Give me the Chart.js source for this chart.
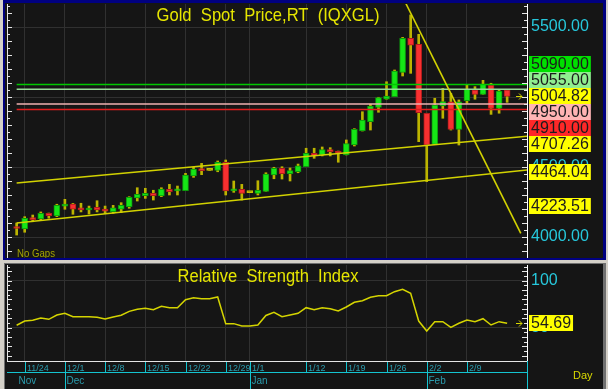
<!DOCTYPE html>
<html>
<head>
<meta charset="utf-8">
<script src="https://cdn.jsdelivr.net/npm/chart.js@4/dist/chart.umd.min.js"></script>
<style>
  html, body { margin: 0; padding: 0; width: 608px; height: 389px; overflow: hidden; background: #d4d0c8; }
  #topFrame { position: absolute; left: 3px; top: 0; width: 603px; height: 260px; background: #000080; }
  #botFrame { position: absolute; left: 4px; top: 263px; width: 602px; height: 126px; background: #707070; }
  canvas { position: absolute; background: #151515; }
  #priceCanvas { left: 5px; top: 3px; }
  #rsiCanvas { left: 5px; top: 264px; }
</style>
</head>
<body>
<div id="topFrame"></div>
<div id="botFrame"></div>
<canvas id="priceCanvas" width="598" height="255"></canvas>
<canvas id="rsiCanvas" width="598" height="125"></canvas>
<script>
const FONT = "'Liberation Sans', Arial, sans-serif";

// daily bars 11/21 .. 2/16
const opens  = [4075, 4057, 4138, 4129, 4169, 4150, 4221, 4236, 4209, 4193, 4212, 4200, 4181, 4198, 4217, 4279,
                4295, 4312, 4293, 4341, 4329, 4331, 4436, 4488, 4476, 4476, 4534, 4329, 4341, 4317, 4312, 4326,
                4443, 4491, 4452, 4466, 4502, 4598, 4586, 4624, 4614, 4586, 4657, 4757, 4824, 4926, 4984, 5002,
                5176, 5419, 5376, 4884, 4662, 4936, 4966, 4769, 4974, 5050, 5019, 5086, 4919, 5050];
const highs  = [4100, 4145, 4157, 4179, 4171, 4234, 4269, 4240, 4241, 4221, 4259, 4221, 4226, 4245, 4288, 4352,
                4348, 4334, 4352, 4376, 4364, 4455, 4498, 4526, 4476, 4543, 4550, 4400, 4376, 4317, 4402, 4459,
                4498, 4502, 4493, 4521, 4634, 4634, 4643, 4638, 4614, 4693, 4774, 4895, 4948, 4998, 5109, 5193,
                5426, 5586, 5448, 4884, 4991, 5062, 5026, 4979, 5086, 5074, 5119, 5098, 5050, 5050];
const lows   = [4014, 4034, 4109, 4121, 4134, 4145, 4198, 4162, 4179, 4164, 4179, 4169, 4169, 4174, 4205, 4257,
                4276, 4264, 4288, 4300, 4300, 4331, 4426, 4445, 4476, 4466, 4300, 4319, 4264, 4317, 4300, 4326,
                4416, 4414, 4400, 4459, 4502, 4562, 4579, 4579, 4534, 4586, 4650, 4757, 4764, 4891, 4984, 5002,
                5150, 5169, 4681, 4395, 4662, 4848, 4764, 4657, 4955, 4984, 5019, 4876, 4884, 4962];
const closes = [4061, 4134, 4124, 4169, 4152, 4226, 4236, 4198, 4193, 4207, 4193, 4184, 4209, 4226, 4284, 4305,
                4312, 4295, 4343, 4324, 4341, 4443, 4486, 4474, 4476, 4534, 4329, 4343, 4312, 4317, 4334, 4450,
                4491, 4452, 4474, 4509, 4598, 4581, 4624, 4609, 4598, 4667, 4769, 4836, 4936, 4995, 5007, 5186,
                5419, 5371, 4888, 4657, 4943, 4967, 4769, 4966, 5055, 5019, 5091, 4919, 5043, 5004.82];

const rsiValues = [52.6, 57.1, 57.9, 60.3, 58.9, 63.5, 65.3, 61.7, 61.7, 61.7, 61.0, 59.3, 61.4, 63.2, 67.4, 69.6,
                   70.6, 69.1, 72.7, 71.3, 71.3, 79.8, 81.9, 80.9, 80.9, 82.7, 54.3, 54.3, 51.8, 51.8, 52.9, 63.0,
                   66.4, 61.7, 63.5, 65.3, 71.3, 69.1, 71.3, 70.2, 67.8, 72.0, 77.0, 78.7, 82.3, 84.0, 84.0, 88.3,
                   90.8, 86.6, 57.1, 46.5, 56.4, 56.4, 50.4, 54.7, 58.2, 56.4, 59.6, 52.9, 56.4, 54.69];

const weekTickIdx = [1, 6, 11, 16, 21, 26, 29, 36, 41, 46, 51, 56];
const weekTickLabels = ["11/24", "12/1", "12/8", "12/15", "12/22", "12/29", "1/1", "1/12", "1/19", "1/26", "2/2", "2/9"];
const monthIdx = [0, 6, 29, 51];
const monthLabels = ["Nov", "Dec", "Jan", "Feb"];

const priceTicks = [4000, 4500, 5000, 5500];
const rsiTicks = [50, 100];

const levelValues = [5090, 5055, 4950, 4910];
const upperChannel = [{ x: 0, y: 4386 }, { x: 63.5, y: 4720 }];
const lowerChannel = [{ x: 0, y: 4100 }, { x: 63.5, y: 4479 }];
const fallingLine = [{ x: 48.3, y: 5680 }, { x: 62.7, y: 4026 }];

const priceTagValues = [5090, 5055, 5004.82, 4950, 4910, 4707.26, 4464.04, 4223.51];
const rsiTagValues = [54.69];

// styles
const levelColors = ["#00c800", "#98dc98", "#f0b0b0", "#e01c1c"];
const priceTagColors = ["#00e000", "#90ee90", "#ffff00", "#ffb4b4", "#ff2828", "#ffff00", "#ffff00", "#ffff00"];
const UP = "#16e616", DOWN = "#f83030", FLAT = "#c8c000";
const WICK = "#bcb400", TREND = "#d2d200", CYAN = "#26c8dc", TEAL = "#2a9cae", GRID = "#303030";
const X_MIN = -1.2, X_MAX = 63.47;

function stackTags(items, h) {
  items.sort((a, b) => a.y - b.y);
  let groups = items.map((it) => ({ items: [it], center: it.y }));
  let merged = true;
  while (merged) {
    merged = false;
    for (let i = 0; i < groups.length - 1; i++) {
      const a = groups[i], b = groups[i + 1];
      if (a.center + a.items.length * h / 2 > b.center - b.items.length * h / 2) {
        const all = a.items.concat(b.items);
        const center = all.reduce((s, it) => s + it.y, 0) / all.length;
        groups.splice(i, 2, { items: all, center });
        merged = true;
        break;
      }
    }
  }
  groups.forEach((g) => {
    const top = g.center - g.items.length * h / 2;
    g.items.forEach((it, k) => { it.top = Math.round(top + k * h); });
  });
}

function drawTags(chart, values, colors, decimals) {
  const { ctx, chartArea: a, scales: { y } } = chart;
  const h = 16;
  const items = values.map((v, i) => ({ y: y.getPixelForValue(v), color: colors[i], text: v.toFixed(decimals) }));
  stackTags(items, h);
  ctx.save();
  ctx.font = `16px ${FONT}`;
  ctx.textAlign = "left";
  ctx.textBaseline = "middle";
  items.forEach((it) => {
    const w = ctx.measureText(it.text).width + 4;
    ctx.fillStyle = it.color;
    ctx.fillRect(a.right + 2, it.top, w, h);
    ctx.fillStyle = "#1c1c1c";
    ctx.fillText(it.text, a.right + 4, it.top + h / 2 + 1);
  });
  ctx.restore();
}

function drawArrow(chart, value) {
  const { ctx, chartArea: a, scales: { y } } = chart;
  const py = Math.round(y.getPixelForValue(value)) + 0.5;
  const tip = a.right - 5;
  ctx.save();
  ctx.strokeStyle = "#d8d800";
  ctx.lineWidth = 1;
  ctx.beginPath();
  ctx.moveTo(tip - 6, py); ctx.lineTo(tip, py);
  ctx.moveTo(tip - 3, py - 3); ctx.lineTo(tip, py); ctx.lineTo(tip - 3, py + 3);
  ctx.stroke();
  ctx.restore();
}

function drawSideTicks(chart, step, majorEvery) {
  const { ctx, chartArea: a, scales: { y } } = chart;
  ctx.save();
  ctx.strokeStyle = "#e6e6e6";
  ctx.lineWidth = 1;
  ctx.beginPath();
  ctx.moveTo(a.left + 0.5, a.top);
  ctx.lineTo(a.left + 0.5, a.bottom);
  const start = Math.ceil(y.min / step) * step;
  for (let v = start; v <= y.max; v += step) {
    const py = Math.round(y.getPixelForValue(v)) + 0.5;
    const len = Math.round(v / step) % majorEvery === 0 ? 5 : 3;
    ctx.moveTo(a.left, py); ctx.lineTo(a.left + len, py);
    ctx.moveTo(a.right - len, py); ctx.lineTo(a.right, py);
  }
  ctx.stroke();
  ctx.restore();
}

function drawTitle(chart, text, size, maxWidth, dy) {
  const { ctx, chartArea: a } = chart;
  ctx.save();
  ctx.font = `${size}px ${FONT}`;
  ctx.fillStyle = "#e6e600";
  ctx.textAlign = "center";
  ctx.textBaseline = "alphabetic";
  ctx.fillText(text, (a.left + a.right) / 2 + 1, a.top + dy, maxWidth);
  ctx.restore();
}

function noScalePadding(s) {
  s.paddingTop = 0;
  s.paddingBottom = 0;
  s.paddingLeft = 0;
  s.paddingRight = 0;
}

function xScaleOptions() {
  return {
    type: "linear",
    min: X_MIN,
    max: X_MAX,
    offset: false,
    grid: { color: GRID, drawTicks: false, offset: false },
    border: { display: false },
    ticks: { display: false },
    afterBuildTicks: (s) => { s.ticks = weekTickIdx.map((v) => ({ value: v })); },
    afterFit: (s) => { s.height = 0; noScalePadding(s); },
  };
}

const pricePlugin = {
  id: "price-decor",
  afterDraw(chart) {
    const { ctx, chartArea: a } = chart;
    drawSideTicks(chart, 50, 2);
    drawTitle(chart, "Gold  Spot  Price,RT  (IQXGL)", 19, 223, 16.5);
    ctx.save();
    ctx.font = `10px ${FONT}`;
    ctx.fillStyle = "#a4a400";
    ctx.fillText("No Gaps", a.left + 10, a.bottom - 1, 38);
    ctx.restore();
    drawArrow(chart, closes[closes.length - 1]);
    drawTags(chart, priceTagValues, priceTagColors, 2);
  },
};

const rsiPlugin = {
  id: "rsi-decor",
  afterDraw(chart) {
    const { ctx, chartArea: a, scales: { x } } = chart;
    drawSideTicks(chart, 5, 2);
    drawTitle(chart, "Relative  Strength  Index", 18, 181, 17.3);
    drawArrow(chart, rsiValues[rsiValues.length - 1]);
    drawTags(chart, rsiTagValues, ["#ffff00"], 2);

    const h = chart.height;
    ctx.save();
    ctx.lineWidth = 1;
    ctx.strokeStyle = "#e6e6e6";
    ctx.beginPath();
    ctx.moveTo(a.left, a.bottom + 0.5); ctx.lineTo(a.right, a.bottom + 0.5);
    ctx.stroke();

    ctx.strokeStyle = "#14c4d0";
    ctx.beginPath();
    ctx.moveTo(a.left, a.bottom + 11.5); ctx.lineTo(a.right, a.bottom + 11.5);
    ctx.moveTo(a.right + 0.5, a.bottom); ctx.lineTo(a.right + 0.5, h);
    weekTickIdx.forEach((v) => {
      const px = Math.round(x.getPixelForValue(v)) + 0.5;
      ctx.moveTo(px, a.bottom + 1); ctx.lineTo(px, a.bottom + 12);
    });
    monthIdx.forEach((v, i) => {
      if (i === 0) return;
      const px = Math.round(x.getPixelForValue(v)) + 0.5;
      ctx.moveTo(px, a.bottom + 11); ctx.lineTo(px, h);
    });
    ctx.stroke();

    ctx.fillStyle = TEAL;
    ctx.textAlign = "left";
    ctx.textBaseline = "alphabetic";
    ctx.font = `9px ${FONT}`;
    weekTickIdx.forEach((v, i) => {
      ctx.fillText(weekTickLabels[i], Math.round(x.getPixelForValue(v)) + 2, a.bottom + 10);
    });
    ctx.font = `10px ${FONT}`;
    monthIdx.forEach((v, i) => {
      ctx.fillText(monthLabels[i], Math.round(x.getPixelForValue(v)) + 1.5, a.bottom + 23);
    });
    ctx.fillStyle = "#d8d800";
    ctx.font = `11px ${FONT}`;
    ctx.fillText("Day", a.right + 46, a.bottom + 18);
    ctx.restore();
  },
};

const bodyColors = closes.map((c, i) => (c > opens[i] ? UP : c < opens[i] ? DOWN : FLAT));
const bodyBorders = closes.map((c, i) => (c > opens[i] ? "#0c9a0c" : c < opens[i] ? "#b01c1c" : FLAT));

const levelDatasets = levelValues.map((v, i) => ({
  type: "line",
  data: [{ x: 0, y: v }, { x: X_MAX, y: v }],
  borderColor: levelColors[i],
  borderWidth: 1.5,
  pointRadius: 0,
}));

const trendDataset = (pts) => ({
  type: "line",
  data: pts,
  borderColor: TREND,
  borderWidth: 1.6,
  pointRadius: 0,
});

new Chart(document.getElementById("priceCanvas"), {
  type: "bar",
  data: {
    datasets: [
      trendDataset(upperChannel),
      trendDataset(lowerChannel),
      trendDataset(fallingLine),
      ...levelDatasets,
      {
        type: "bar",
        data: opens.map((o, i) => ({ x: i, y: [Math.min(o, closes[i]), Math.max(o, closes[i])] })),
        backgroundColor: bodyColors,
        borderColor: bodyBorders,
        borderWidth: 1,
        borderSkipped: false,
        barThickness: 6,
        minBarLength: 2,
        grouped: false,
      },
      {
        type: "bar",
        data: highs.map((hv, i) => ({ x: i, y: [lows[i], hv] })),
        backgroundColor: WICK,
        borderWidth: 0,
        barThickness: 2,
        grouped: false,
      },
    ],
  },
  options: {
    responsive: false,
    animation: false,
    devicePixelRatio: 1,
    layout: { autoPadding: false, padding: { left: 2, top: 1, right: 0, bottom: 0 } },
    plugins: { legend: { display: false }, tooltip: { enabled: false } },
    scales: {
      x: xScaleOptions(),
      y: {
        position: "right",
        min: 3850,
        max: 5664.3,
        grid: { color: GRID, drawTicks: false },
        border: { color: "#ffffff", width: 1 },
        ticks: { color: CYAN, padding: 4, font: { size: 16, family: FONT }, callback: (v) => Number(v).toFixed(2) },
        afterBuildTicks: (s) => { s.ticks = priceTicks.map((v) => ({ value: v })); },
        afterFit: (s) => { s.width = 76; noScalePadding(s); },
      },
    },
  },
  plugins: [pricePlugin],
});

new Chart(document.getElementById("rsiCanvas"), {
  type: "line",
  data: {
    datasets: [
      {
        data: rsiValues.map((v, i) => ({ x: i, y: v })),
        borderColor: "#d4d400",
        borderWidth: 1.5,
        pointRadius: 0,
        tension: 0,
      },
    ],
  },
  options: {
    responsive: false,
    animation: false,
    devicePixelRatio: 1,
    layout: { autoPadding: false, padding: { left: 2, top: 1, right: 0, bottom: 28 } },
    plugins: { legend: { display: false }, tooltip: { enabled: false } },
    scales: {
      x: xScaleOptions(),
      y: {
        position: "right",
        min: 14.57,
        max: 116.7,
        grid: { color: GRID, drawTicks: false },
        border: { color: "#ffffff", width: 1 },
        ticks: { color: CYAN, padding: 4, font: { size: 16, family: FONT }, callback: (v) => String(v) },
        afterBuildTicks: (s) => { s.ticks = rsiTicks.map((v) => ({ value: v })); },
        afterFit: (s) => { s.width = 76; noScalePadding(s); },
      },
    },
  },
  plugins: [rsiPlugin],
});
</script>
</body>
</html>
